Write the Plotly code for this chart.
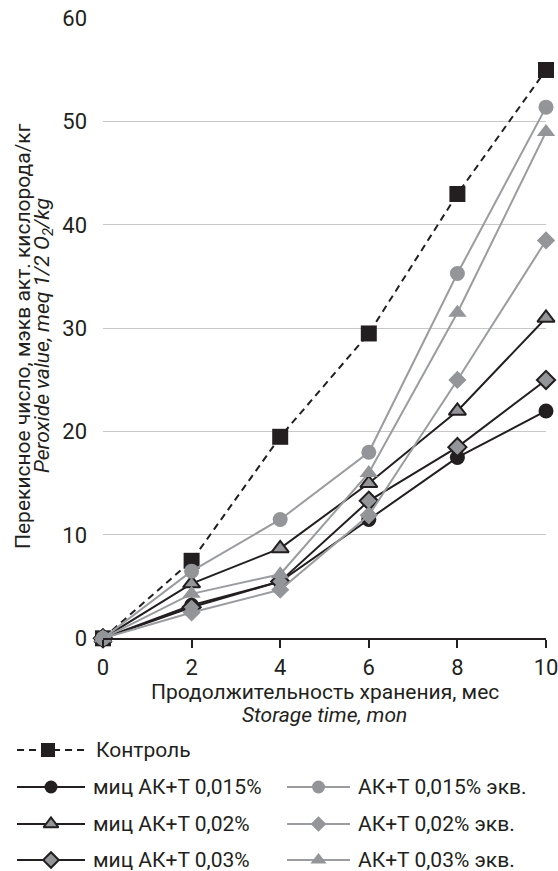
import plotly.graph_objects as go

# Storage time, months
months = [0, 2, 4, 6, 8, 10]

# Peroxide value, meq 1/2 O2/kg
control = [0, 7.5, 19.5, 29.5, 43.0, 55.0]
mic_0015 = [0, 3.2, 5.5, 11.5, 17.5, 22.0]
mic_002 = [0, 5.3, 8.7, 15.0, 22.0, 31.0]
mic_003 = [0, 3.0, 5.5, 13.3, 18.5, 25.0]
eq_0015 = [0, 6.5, 11.5, 18.0, 35.3, 51.4]
eq_002 = [0, 2.5, 4.7, 11.9, 25.0, 38.5]
eq_003 = [0, 4.3, 6.2, 16.0, 31.5, 49.0]

names = [
    "Контроль",
    "миц АК+Т 0,015%",
    "миц АК+Т 0,02%",
    "миц АК+Т 0,03%",
    "АК+Т 0,015% экв.",
    "АК+Т 0,02% экв.",
    "АК+Т 0,03% экв.",
]
values = [control, mic_0015, mic_002, mic_003, eq_0015, eq_002, eq_003]

x_ticks = [0, 2, 4, 6, 8, 10]
y_ticks = [0, 10, 20, 30, 40, 50, 60]

BLACK = "#231f20"
GREY = "#939598"
GREY_LINE = "#9a9c9f"
GRID = "#c8c8c8"
FONT = "Roboto, Liberation Sans, sans-serif"

W, H = 558, 871

# line / marker style for each series
styles = [
    dict(lc=BLACK, dash="7px,5px", sym="square", ms=16, fill=BLACK, ol=BLACK, ow=0),
    dict(lc=BLACK, dash="solid", sym="circle", ms=15, fill=BLACK, ol=BLACK, ow=0),
    dict(lc=BLACK, dash="solid", sym="triangle-up", ms=15, fill=GREY, ol=BLACK, ow=2),
    dict(lc=BLACK, dash="solid", sym="diamond", ms=14, fill=GREY, ol=BLACK, ow=2),
    dict(lc=GREY_LINE, dash="solid", sym="circle", ms=15, fill=GREY, ol=GREY, ow=0),
    dict(lc=GREY_LINE, dash="solid", sym="diamond", ms=14, fill=GREY, ol=GREY, ow=0),
    dict(lc=GREY_LINE, dash="solid", sym="triangle-up", ms=16, fill=GREY, ol=GREY, ow=0),
]

fig = go.Figure()

for name, ys, st in zip(names, values, styles):
    fig.add_trace(go.Scatter(
        x=months, y=ys, name=name, mode="lines+markers",
        line=dict(color=st["lc"], width=2, dash=st["dash"]),
        marker=dict(symbol=st["sym"], size=st["ms"], color=st["fill"],
                    line=dict(color=st["ol"], width=st["ow"])),
        cliponaxis=False, showlegend=False,
    ))

# Hand-laid legend: two columns, drawn on a pixel-scaled overlay axis
legend_slots = [
    (17, 88, 750),    # Контроль
    (17, 85, 787),
    (17, 85, 824),
    (17, 85, 860),
    (287, 350, 787),
    (287, 350, 824),
    (287, 350, 860),
]
for name, st, (x0, x1, yc) in zip(names, styles, legend_slots):
    xm = (x0 + x1) / 2 if name != "Контроль" else 48
    fig.add_trace(go.Scatter(
        x=[x0, x1], y=[yc, yc], mode="lines", xaxis="x2", yaxis="y2",
        line=dict(color=st["lc"], width=2, dash=st["dash"]),
        cliponaxis=False, showlegend=False, hoverinfo="skip",
    ))
    fig.add_trace(go.Scatter(
        x=[xm], y=[yc], mode="markers", xaxis="x2", yaxis="y2",
        marker=dict(symbol=st["sym"], size=st["ms"] - 2, color=st["fill"],
                    line=dict(color=st["ol"], width=st["ow"])),
        cliponaxis=False, showlegend=False, hoverinfo="skip",
    ))
    fig.add_annotation(
        x=x1 + 6, y=yc, xref="x2", yref="y2", text=name, showarrow=False,
        xanchor="left", yanchor="middle", font=dict(size=21, color=BLACK, family=FONT),
    )

px_left, px_right = 103, 546
px_top, px_bottom = 18.3, 638.3

fig.update_layout(
    width=W, height=H,
    margin=dict(l=0, r=0, t=0, b=0, autoexpand=False),
    paper_bgcolor="white", plot_bgcolor="rgba(0,0,0,0)",
    font=dict(family=FONT, size=21, color=BLACK),
    xaxis=dict(
        domain=[px_left / W, px_right / W], range=[0, 10],
        tickvals=x_ticks, ticktext=[str(v) for v in x_ticks],
        showgrid=False, zeroline=False,
        showline=True, linecolor=BLACK, linewidth=1.5,
        ticks="outside", ticklen=8, tickwidth=1.5, tickcolor=BLACK,
        ticklabeloverflow="allow", ticklabelstandoff=1, automargin=False,
        tickfont=dict(size=22, color=BLACK), anchor="y",
    ),
    yaxis=dict(
        domain=[1 - px_bottom / H, 1 - px_top / H], range=[0, 60],
        tickvals=y_ticks, ticktext=[str(v) for v in y_ticks],
        showgrid=True, gridcolor=GRID, gridwidth=1.2,
        zeroline=False, showline=False, ticks="",
        ticklabelstandoff=15, automargin=False,
        tickfont=dict(size=22, color=BLACK), anchor="x",
    ),
    xaxis2=dict(domain=[0, 1], range=[0, W], visible=False, anchor="y2",
                fixedrange=True, automargin=False),
    yaxis2=dict(domain=[0, 1], range=[H, 0], visible=False, anchor="x2",
                fixedrange=True, automargin=False),
)

# Axis titles, one annotation per line
x_mid = (px_left + px_right) / 2 / W
title_font = dict(size=21, color=BLACK, family=FONT)
fig.add_annotation(
    x=x_mid, y=1 - 692 / H, xref="paper", yref="paper",
    text="Продолжительность хранения, мес",
    showarrow=False, xanchor="center", yanchor="middle", font=title_font,
)
fig.add_annotation(
    x=x_mid, y=1 - 715 / H, xref="paper", yref="paper",
    text="<i>Storage time, mon</i>",
    showarrow=False, xanchor="center", yanchor="middle", font=title_font,
)
fig.add_annotation(
    x=23 / W, y=1 - 336 / H, xref="paper", yref="paper",
    text="Перекисное число, мэкв акт. кислорода/кг",
    showarrow=False, textangle=-90, xanchor="center", yanchor="middle", font=title_font,
)
fig.add_annotation(
    x=43 / W, y=1 - 336 / H, xref="paper", yref="paper",
    text="<i>Peroxide value, meq 1/2 O<sub>2</sub>/kg</i>",
    showarrow=False, textangle=-90, xanchor="center", yanchor="middle", font=title_font,
)

fig.write_html("out.html")
